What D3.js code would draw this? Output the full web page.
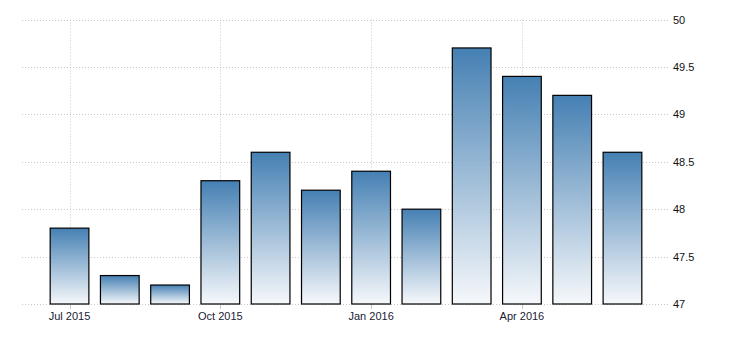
<!DOCTYPE html>
<html>
<head>
<meta charset="utf-8">
<script src="https://cdn.jsdelivr.net/npm/d3@7"></script>
<style>
  body{margin:0;background:#fff;}
  text{font-family:"Liberation Sans",Arial,sans-serif;font-size:11px;}
</style>
</head>
<body>
<main></main>
<script>
const months=["2015-07","2015-08","2015-09","2015-10","2015-11","2015-12","2016-01","2016-02","2016-03","2016-04","2016-05","2016-06"];
const values=[47.8,47.3,47.2,48.3,48.6,48.2,48.4,48.0,49.7,49.4,49.2,48.6];
const xLabels={"2015-07":"Jul 2015","2015-10":"Oct 2015","2016-01":"Jan 2016","2016-04":"Apr 2016"};
const yTicks=[47,47.5,48,48.5,49,49.5,50];

const w=730;
const h=340;
const plotLeft=22, plotRight=670, plotTop=19.5, plotBottom=304;

const svg=d3.select("main")
  .append("svg")
  .attr("width",w)
  .attr("height",h);

const grad=svg.append("defs")
  .append("linearGradient")
  .attr("id","barFill")
  .attr("x1",0).attr("y1",0)
  .attr("x2",0).attr("y2",1);
grad.append("stop").attr("offset","0%").attr("stop-color","#4580b3");
grad.append("stop").attr("offset","100%").attr("stop-color","#f6f8fb");

const xScale=d3.scaleBand()
  .domain(months)
  .range([44.4,647.6])
  .paddingInner(0.23)
  .paddingOuter(0.115);

const yScale=d3.scaleLinear()
  .domain([47,50])
  .range([plotBottom,plotTop]);

const center=d=>Math.round(xScale(d)+xScale.bandwidth()/2)+0.5;

// horizontal grid
svg.append("g")
  .selectAll("line")
  .data(yTicks)
  .enter()
  .append("line")
  .attr("x1",plotLeft)
  .attr("x2",plotRight)
  .attr("y1",d=>Math.round(yScale(d))+0.5)
  .attr("y2",d=>Math.round(yScale(d))+0.5)
  .attr("stroke","#c8c8c8")
  .attr("stroke-dasharray","1,2");

// vertical grid at labelled months
const labelled=months.filter(m=>xLabels[m]);
svg.append("g")
  .selectAll("line")
  .data(labelled)
  .enter()
  .append("line")
  .attr("x1",center)
  .attr("x2",center)
  .attr("y1",plotTop)
  .attr("y2",plotBottom)
  .attr("stroke","#c8c8c8")
  .attr("stroke-dasharray","1,2");

// small ticks under baseline
svg.append("g")
  .selectAll("line")
  .data(labelled)
  .enter()
  .append("line")
  .attr("x1",center)
  .attr("x2",center)
  .attr("y1",plotBottom)
  .attr("y2",plotBottom+5)
  .attr("stroke","#c8c8c8");

// bars
svg.selectAll("rect.bar")
  .data(months)
  .enter()
  .append("rect")
  .attr("class","bar")
  .attr("x",d=>xScale(d))
  .attr("y",(d,i)=>yScale(values[i]))
  .attr("width",xScale.bandwidth())
  .attr("height",(d,i)=>plotBottom-yScale(values[i]))
  .attr("fill","url(#barFill)")
  .attr("stroke","#000")
  .attr("stroke-width",1.2);

// x labels
svg.append("g")
  .selectAll("text")
  .data(labelled)
  .enter()
  .append("text")
  .attr("x",d=>xScale(d)+xScale.bandwidth()/2)
  .attr("y",plotBottom+16)
  .attr("text-anchor","middle")
  .attr("fill","#1a1a33")
  .text(d=>xLabels[d]);

// y labels
svg.append("g")
  .selectAll("text")
  .data(yTicks)
  .enter()
  .append("text")
  .attr("x",plotRight+3)
  .attr("y",d=>yScale(d)+4)
  .attr("fill","#111")
  .text(d=>d);
</script>
</body>
</html>
